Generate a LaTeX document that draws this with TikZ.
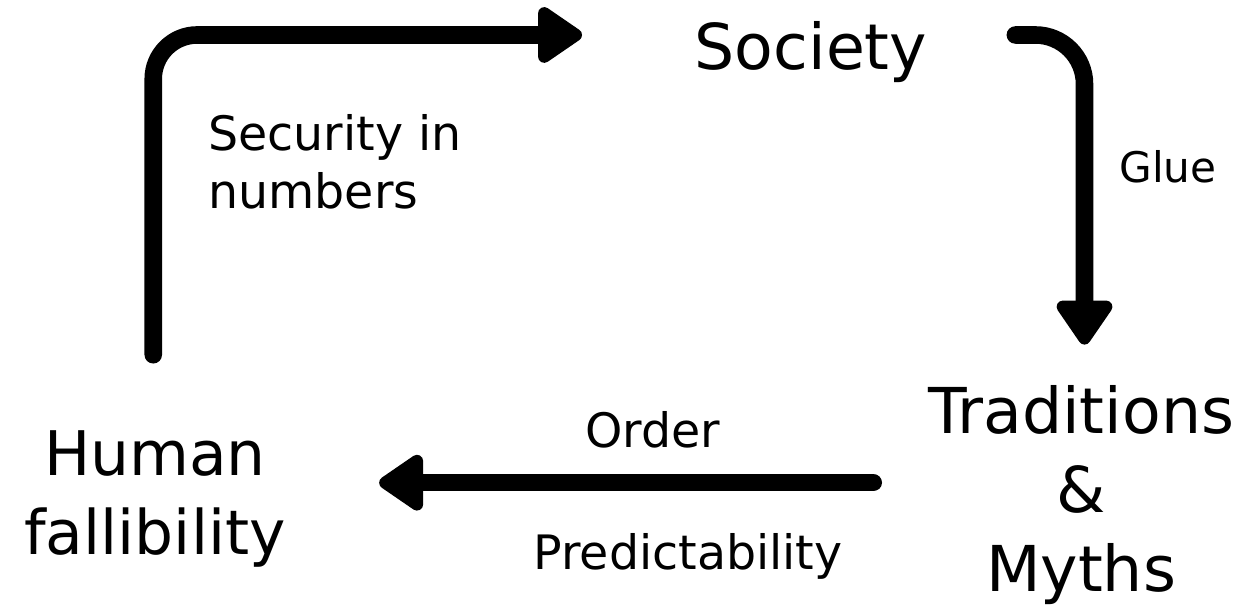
\documentclass[tikz,border=0pt]{standalone}
\usepackage{fontspec}
\setmainfont{DejaVu Sans}
\usetikzlibrary{arrows.meta}

\begin{document}
\begin{tikzpicture}[x=0.02cm, y=-0.02cm,
  flow/.style={line width=10pt, line cap=round, -{Triangle[length=28pt,width=36pt,round]}},
  big/.style={inner sep=0pt, font=\fontsize{36}{45}\selectfont, align=center},
  small/.style={inner sep=0pt, font=\fontsize{27}{33}\selectfont}]

\useasboundingbox (0,0) rectangle (1249,614);

% Draw the three main nodes
\node [big, anchor=base] (society) at (811,70) {Society};
\node [big] (traditions) at (1081,495) {Traditions\\\&\\Myths};
\node [big, font=\fontsize{35}{45}\selectfont] (human) at (155,499) {Human\\fallibility};

% Draw the labels on the arrows
\node [small, anchor=north west, align=left] (security) at (208,114) {Security in\\numbers};
\node [small, font=\fontsize{24}{30}\selectfont, anchor=base] (glue) at (1168,183) {Glue};
\node [small, anchor=base] (order) at (653,448) {Order};
\node [small, anchor=base] (predictability) at (688,570) {Predictability};

% Draw the arrows round the cycle
\draw [flow, rounded corners=25, shorten <=43pt, shorten >=64pt] ([xshift=-1pt]human.north) |- ([yshift=10pt]society.west);
\draw [flow, rounded corners=28, shorten <=50pt, shorten >=23pt] ([yshift=10pt]society.east) -| ([xshift=2pt]traditions.north);
\draw [flow, shorten <=31pt, shorten >=53pt] ([yshift=7pt]traditions.west) -- ([yshift=7pt]traditions.west -| human.east);

\end{tikzpicture}
\end{document}
